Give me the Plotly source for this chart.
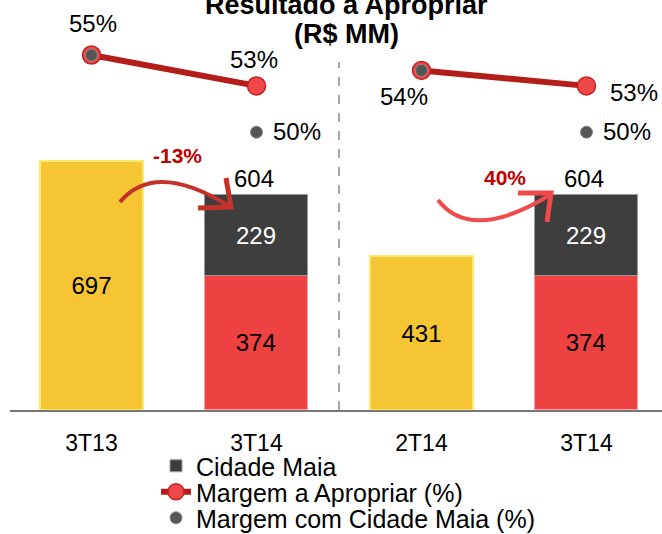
import plotly.graph_objects as go

# ---------------- data ----------------
categories = ["3T13", "3T14", "2T14", "3T14"]
resultado_base = [697, None, 431, None]      # yellow bars
resultado_ex_cm = [None, 374, None, 374]     # red segment
cidade_maia = [None, 229, None, 229]         # dark segment
total_3t14 = [None, 604, None, 604]          # totals above stacked bars
margem_apropriar = [55, 53, 54, 53]          # %
margem_com_cm = [55, 50, 54, 50]             # %
variacao_labels = ["-13%", "40%"]

FONT = "Liberation Sans, Arial, sans-serif"
W, H = 662, 534
PLOT_H = 410

def pp(xp, yp):
    """pixel -> paper coords (margins l=r=t=0)"""
    return xp / W, (PLOT_H - yp) / PLOT_H

x_idx = list(range(len(categories)))

fig = go.Figure()

# bars
fig.add_trace(go.Bar(
    x=x_idx, y=resultado_base, width=0.624,
    marker=dict(color="#F6C534", line=dict(color="#FCEB6A", width=2)),
    text=[str(v) if v is not None else "" for v in resultado_base],
    textposition="inside", insidetextanchor="middle", textangle=0,
    textfont=dict(size=24, color="black", family=FONT),
    showlegend=False, hoverinfo="skip"))
fig.add_trace(go.Bar(
    x=x_idx, y=resultado_ex_cm, width=0.624,
    marker=dict(color="#EE4141", line=dict(color="#F7A3A3", width=1.5)),
    text=[str(v) if v is not None else "" for v in resultado_ex_cm],
    textposition="inside", insidetextanchor="middle", textangle=0,
    textfont=dict(size=24, color="black", family=FONT),
    showlegend=False, hoverinfo="skip"))
fig.add_trace(go.Bar(
    x=x_idx, y=cidade_maia, width=0.624, name="Cidade Maia",
    marker=dict(color="#3E3E3E", line=dict(color="#9A9A9A", width=1)),
    text=[str(v) if v is not None else "" for v in cidade_maia],
    textposition="inside", insidetextanchor="middle", textangle=0,
    textfont=dict(size=24, color="white", family=FONT),
    legend="legend", hoverinfo="skip"))

# margin line (two separate segments per comparison)
lx, ly = [], []
for a, b in [(0, 1), (2, 3)]:
    lx += [a, b, None]
    ly += [margem_apropriar[a], margem_apropriar[b], None]
fig.add_trace(go.Scatter(
    x=lx, y=ly, yaxis="y2", mode="lines+markers", connectgaps=False,
    name="Margem a Apropriar (%)",
    line=dict(color="#B41E1A", width=6),
    marker=dict(size=18, color="#F04848", line=dict(color="#C42020", width=1.5)),
    legend="legend2", hoverinfo="skip"))
fig.add_trace(go.Scatter(
    x=x_idx, y=margem_com_cm, yaxis="y2", mode="markers",
    name="Margem com Cidade Maia (%)",
    marker=dict(size=12, color="#555555", line=dict(color="#888888", width=1)),
    legend="legend3", hoverinfo="skip"))

annotations = []
# title
for txt, yp in [("Resultado a Apropriar", 5), ("(R$ MM)", 34)]:
    xpp, ypp = pp(346, yp)
    annotations.append(dict(text=txt, xref="paper", yref="paper", x=xpp, y=ypp,
                            xanchor="center", yanchor="middle", showarrow=False,
                            font=dict(size=27, color="black", family=FONT, weight="bold")))

# totals above stacked bars
for i, v in enumerate(total_3t14):
    if v is not None:
        annotations.append(dict(text=str(v), x=i, y=v, xref="x", yref="y",
                                xanchor="center", yanchor="middle", yshift=16, xshift=-3,
                                showarrow=False,
                                font=dict(size=24, color="black", family=FONT)))

# percentage labels (shift styles)
m_shift = [(1, 32), (-3, 26), (-18, -26), (47, -7)]
for i, v in enumerate(margem_apropriar):
    annotations.append(dict(text=f"{v}%", x=i, y=v, xref="x", yref="y2",
                            xanchor="center", yanchor="middle",
                            xshift=m_shift[i][0], yshift=m_shift[i][1],
                            showarrow=False,
                            font=dict(size=24, color="black", family=FONT)))
for i, v in enumerate(margem_com_cm):
    if v != margem_apropriar[i]:
        annotations.append(dict(text=f"{v}%", x=i, y=v, xref="x", yref="y2",
                                xanchor="center", yanchor="middle",
                                xshift=40, yshift=1, showarrow=False,
                                font=dict(size=24, color="black", family=FONT)))

# variation labels
for txt, (xp, yp) in zip(variacao_labels, [(177, 155), (505, 177)]):
    xpp, ypp = pp(xp, yp)
    annotations.append(dict(text=txt, xref="paper", yref="paper", x=xpp, y=ypp,
                            xanchor="center", yanchor="middle", showarrow=False,
                            font=dict(size=21, color="#C00000", family=FONT, weight="bold")))

shapes = []
# dashed separator
shapes.append(dict(type="line", xref="x", yref="paper", x0=1.5, x1=1.5,
                   y0=0, y1=(PLOT_H - 62) / PLOT_H,
                   line=dict(color="#8A8A8A", width=1.5, dash="dash")))

def path(points, curve=False):
    pts = [pp(*p) for p in points]
    if curve:
        (x0, y0), (cx, cy), (x1, y1) = pts
        return f"M {x0},{y0} Q {cx},{cy} {x1},{y1}"
    return "M " + " L ".join(f"{x},{y}" for x, y in pts)

# arrow 1 (decrease)
c1 = "#C4302A"
shapes.append(dict(type="path", xref="paper", yref="paper",
                   path=path([(120, 202), (155, 160), (229, 206)], curve=True),
                   line=dict(color=c1, width=4)))
shapes.append(dict(type="path", xref="paper", yref="paper",
                   path=path([(226, 178), (231, 207), (198, 208)]),
                   line=dict(color=c1, width=5)))
# arrow 2 (increase)
c2 = "#F04A4A"
shapes.append(dict(type="path", xref="paper", yref="paper",
                   path=path([(438, 200), (471, 243), (550, 195)], curve=True),
                   line=dict(color=c2, width=4)))
shapes.append(dict(type="path", xref="paper", yref="paper",
                   path=path([(547, 222), (551, 193), (518, 193)]),
                   line=dict(color=c2, width=5)))

leg_common = dict(xanchor="left", yanchor="middle", bgcolor="rgba(0,0,0,0)",
                  font=dict(size=25, color="black", family=FONT), borderwidth=0)
lx0 = (199 - 43) / W

fig.update_layout(
    width=W, height=H,
    margin=dict(l=0, r=0, t=0, b=H - PLOT_H, autoexpand=False),
    paper_bgcolor="white", plot_bgcolor="white",
    barmode="stack", bargap=0,
    font=dict(family=FONT),
    xaxis=dict(domain=[10 / W, 1], range=[(10 - 91.5) / 165, (662 - 91.5) / 165],
               tickmode="array", tickvals=x_idx, ticktext=categories,
               tickfont=dict(size=23, color="black", family=FONT),
               ticks="outside", ticklen=12, tickcolor="rgba(0,0,0,0)",
               showline=True, linecolor="#777777", linewidth=1.5,
               showgrid=False, zeroline=False, fixedrange=True),
    yaxis=dict(range=[0, PLOT_H / 0.357], visible=False, showgrid=False, fixedrange=True),
    yaxis2=dict(range=[53 - (PLOT_H - 85.875) / 15.43, 53 + 85.875 / 15.43],
                overlaying="y", visible=False, showgrid=False, fixedrange=True),
    legend=dict(x=lx0, y=pp(0, 466)[1], **leg_common),
    legend2=dict(x=lx0, y=pp(0, 492)[1], **leg_common),
    legend3=dict(x=lx0, y=pp(0, 518)[1], **leg_common),
    annotations=annotations,
    shapes=shapes,
)

fig.write_html("out.html", config={"displayModeBar": False},
               post_script="document.body.style.margin='0px';")
